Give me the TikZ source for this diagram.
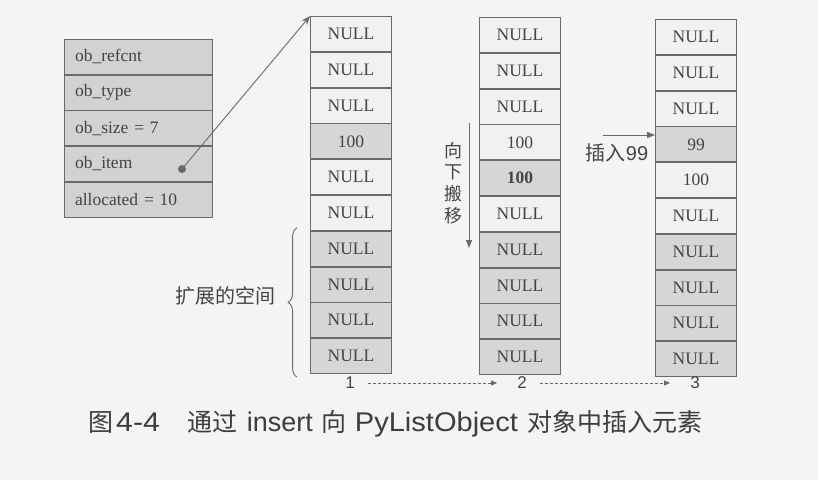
\documentclass[tikz,border=0pt]{standalone}
\usepackage{fontspec}
\setmainfont{Liberation Serif}
\newfontfamily\cjk{Noto Sans CJK SC}
\newfontfamily\lsans{Liberation Sans}
\usetikzlibrary{arrows.meta,decorations.pathreplacing,calc}
\definecolor{bg}{HTML}{F4F4F2}
\definecolor{cellw}{HTML}{F1F1F0}
\definecolor{cellg}{HTML}{D6D6D5}
\definecolor{structg}{HTML}{D2D2D1}
\definecolor{ln}{HTML}{6A6A6A}
\definecolor{tx}{HTML}{444444}
\tikzset{
 cellbox/.style={draw=ln, line width=0.9pt, minimum width=81pt, minimum height=34.9pt, inner sep=0pt, text=tx, font=\fontsize{17.5}{18}\selectfont, anchor=north},
 wcell/.style={cellbox, fill=cellw},
 gcell/.style={cellbox, fill=cellg},
 fieldbox/.style={draw=ln, line width=0.9pt, fill=structg, minimum width=148pt, minimum height=34.8pt, inner sep=0pt, text=tx, font=\fontsize{17.5}{18}\selectfont, anchor=north, text width=126pt, align=left},
 lbltext/.style={text=tx, inner sep=0pt},
 darrow/.style={draw=ln, line width=0.8pt, dash pattern=on 3pt off 2pt, -{Triangle[length=6pt,width=5pt]}, shorten <=13pt, shorten >=20pt},
}
\begin{document}
\begin{tikzpicture}[x=1pt,y=-1pt]
\useasboundingbox[fill=bg] (0,0) rectangle (818,480);

% struct
\node[fieldbox] (f1) at (138,39) {ob\_refcnt};
\node[fieldbox] (f2) at (f1.south) {ob\_type};
\node[fieldbox] (f3) at (f2.south) {ob\_size = 7};
\node[fieldbox] (f4) at (f3.south) {ob\_item};
\node[fieldbox] (f5) at (f4.south) {allocated = 10};
\node[circle, fill=ln, minimum size=8pt, inner sep=0pt] (dot) at (182,169) {};

% column 1
\node[wcell] (a1) at (351,16) {NULL};
\node[wcell] (a2) at (a1.south) {NULL};
\node[wcell] (a3) at (a2.south) {NULL};
\node[gcell] (a4) at (a3.south) {100};
\node[wcell] (a5) at (a4.south) {NULL};
\node[wcell] (a6) at (a5.south) {NULL};
\node[gcell] (a7) at (a6.south) {NULL};
\node[gcell] (a8) at (a7.south) {NULL};
\node[gcell] (a9) at (a8.south) {NULL};
\node[gcell] (a10) at (a9.south) {NULL};

% column 2
\node[wcell] (b1) at (520,17) {NULL};
\node[wcell] (b2) at (b1.south) {NULL};
\node[wcell] (b3) at (b2.south) {NULL};
\node[wcell] (b4) at (b3.south) {100};
\node[gcell] (b5) at (b4.south) {\textbf{100}};
\node[wcell] (b6) at (b5.south) {NULL};
\node[gcell] (b7) at (b6.south) {NULL};
\node[gcell] (b8) at (b7.south) {NULL};
\node[gcell] (b9) at (b8.south) {NULL};
\node[gcell] (b10) at (b9.south) {NULL};

% column 3
\node[wcell] (c1) at (696,19) {NULL};
\node[wcell] (c2) at (c1.south) {NULL};
\node[wcell] (c3) at (c2.south) {NULL};
\node[gcell] (c4) at (c3.south) {99};
\node[wcell] (c5) at (c4.south) {100};
\node[wcell] (c6) at (c5.south) {NULL};
\node[gcell] (c7) at (c6.south) {NULL};
\node[gcell] (c8) at (c7.south) {NULL};
\node[gcell] (c9) at (c8.south) {NULL};
\node[gcell] (c10) at (c9.south) {NULL};

% pointer
\draw[ln, line width=0.9pt, -{Stealth[length=9pt,width=7pt]}] (dot.center) -- (a1.north west);

% brace
\coordinate (br1) at ($(a10.south west)+(-13pt,-3pt)$);
\coordinate (br2) at ($(a7.north west)+(-13pt,3pt)$);
\draw[ln, line width=0.9pt, decorate, decoration={brace, amplitude=9pt}] (br1) -- (br2);
\node[lbltext, anchor=east, font=\cjk\fontsize{20}{20}\selectfont] (ext) at (276,296) {扩展的空间};

% move down
\coordinate (ms) at (469,123);
\coordinate (me) at (469,248);
\draw[ln, line width=0.9pt, -{Triangle[length=8pt,width=6pt]}] (ms) -- (me);
\node[lbltext, font=\cjk\fontsize{18}{21.7}\selectfont, align=center] (mv) at (453,183) {向\\下\\搬\\移};

% insert
\coordinate (ia) at (603,135);
\draw[ln, line width=0.9pt, -{Triangle[length=8pt,width=6pt]}] (ia) -- (ia -| c4.west);
\node[lbltext, font=\cjk\fontsize{20}{20}\selectfont] (ins) at (617,153) {插入{\lsans 99}};

% steps
\node[lbltext, font=\lsans\fontsize{17}{17}\selectfont] (n1) at (350,383) {1};
\node[lbltext, font=\lsans\fontsize{17}{17}\selectfont] (n2) at (522,383) {2};
\node[lbltext, font=\lsans\fontsize{17}{17}\selectfont] (n3) at (695,383) {3};
\draw[darrow] (n1) -- (n2);
\draw[darrow] (n2) -- (n3);

% caption
\node[lbltext, text=tx!90!black, anchor=west, font=\cjk\fontsize{25}{25}\selectfont] (cap) at (88,424) {图\hspace{3pt}\scalebox{1.12}[1]{\lsans\fontsize{27}{27}\selectfont 4-4}\hspace{28pt}通过\hspace{9pt}{\lsans\fontsize{27}{27}\selectfont insert}\hspace{9pt}向\hspace{8pt}\scalebox{1.076}[1]{\lsans\fontsize{27}{27}\selectfont PyListObject}\hspace{9pt}对象中插入元素};
\end{tikzpicture}
\end{document}
